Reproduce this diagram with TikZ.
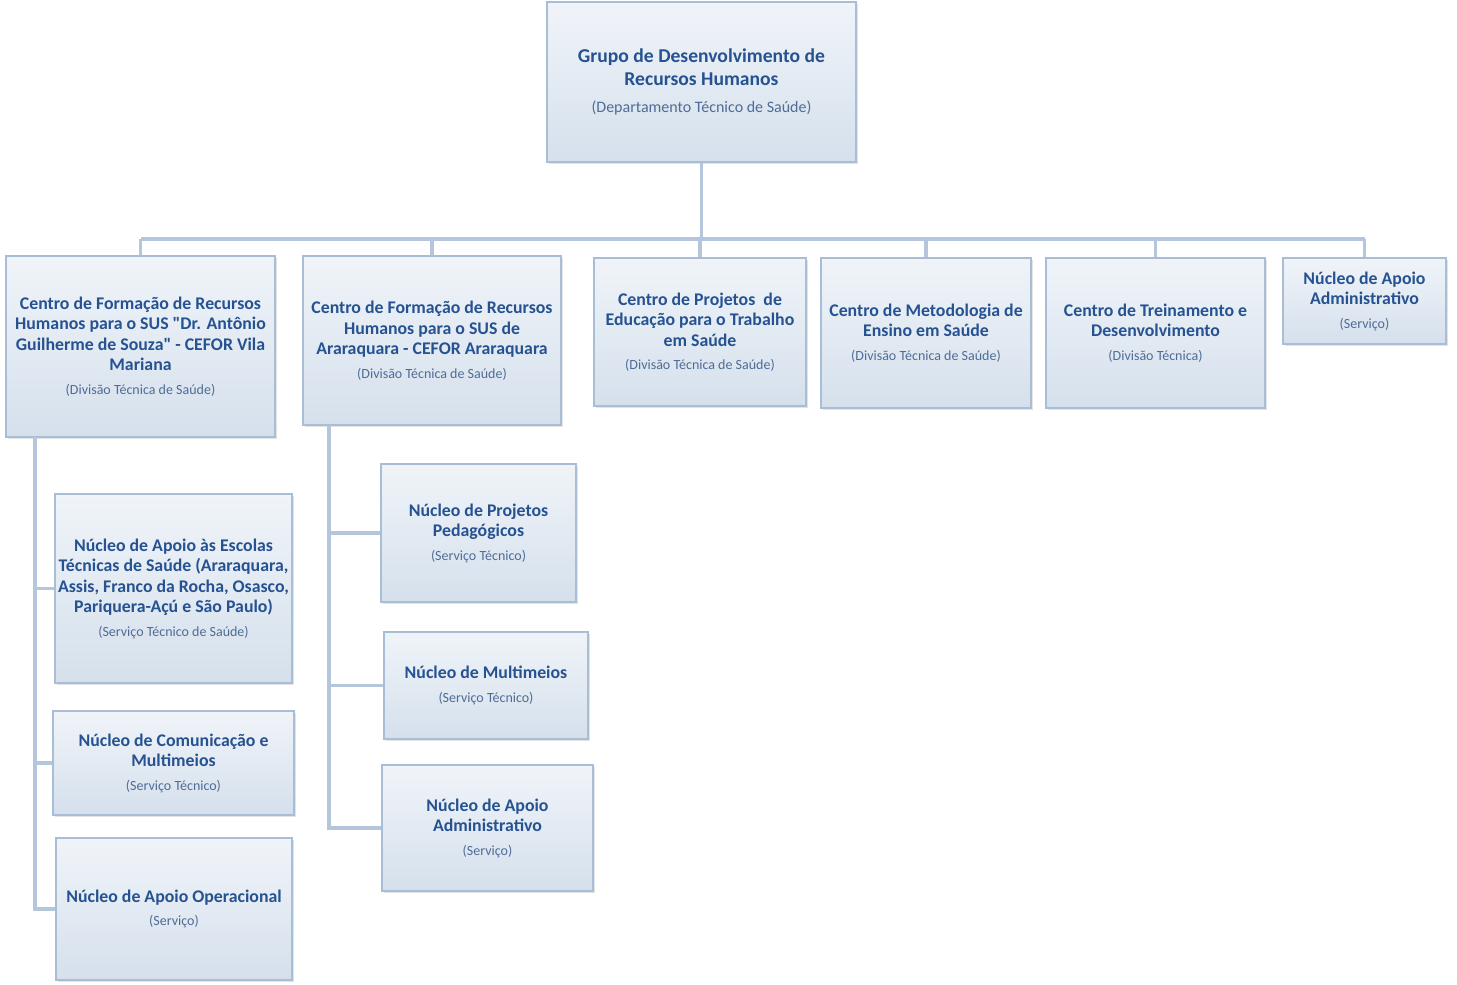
\documentclass[tikz,border=0pt]{standalone}
\usepackage{fontspec}
\setmainfont{Carlito}[Ligatures=TeXOff]
\usetikzlibrary{shadows}
\definecolor{ttl}{RGB}{38,82,145}
\definecolor{subt}{RGB}{78,108,150}
\definecolor{boxtop}{RGB}{240,244,249}
\definecolor{boxbot}{RGB}{213,224,236}
\definecolor{boxline}{RGB}{168,190,215}
\definecolor{conn}{RGB}{180,198,220}
\newcommand{\sbt}[1]{{\fontsize{14}{16}\selectfont\mdseries\color{subt}#1}}
\tikzset{
  orgbox/.style={draw=boxline, line width=1.2pt, top color=boxtop, bottom color=boxbot,
    align=center, inner sep=2pt, text=ttl,
    font=\fontsize{17.8}{20.5}\selectfont\bfseries,
    drop shadow={shadow xshift=1.5pt, shadow yshift=-1.5pt, opacity=0.22}},
  link/.style={draw=conn, line width=3.5pt},
}
\newcommand{\orgnode}[8]{%
  \node[orgbox, minimum width={#4-#2}, minimum height={#5-#3}] (#1) at ({(#2+#4)/2},{(#3+#5)/2}) {#6\\[#8]\sbt{#7}};}
\begin{document}
\begin{tikzpicture}[x=1pt,y=-1pt]
\useasboundingbox (0,0) rectangle (1457,985);
\coordinate (busL) at (141,239);
\coordinate (busR) at (1365,239);
\coordinate (colA) at (35,437);
\coordinate (colB) at (329,425);

% top box
\node[orgbox, minimum width=309, minimum height=160,
  font=\fontsize{19.6}{23}\selectfont\bfseries] (top) at (701.5,82)
  {Grupo de Desenvolvimento de\\Recursos Humanos\\[4pt]{\fontsize{16}{18}\selectfont\mdseries\color{subt}(Departamento Técnico de Saúde)}};

\draw[link] (busL) -- (busR);
\draw[link] (top.south) -- (top.south |- busL);

\orgnode{b1}{6}{256}{275}{437}{Centro de Formação de Recursos\\Humanos para o SUS "Dr. Antônio\\Guilherme de Souza" - CEFOR Vila\\Mariana}{(Divisão Técnica de Saúde)}{3pt}
\orgnode{b2}{303}{256}{561}{425}{Centro de Formação de Recursos\\Humanos para o SUS de\\Araraquara - CEFOR Araraquara}{(Divisão Técnica de Saúde)}{3pt}
\orgnode{b3}{594}{258}{806}{406}{Centro de Projetos\ \ de\\Educação para o Trabalho\\em Saúde}{(Divisão Técnica de Saúde)}{3pt}
\orgnode{b4}{821}{258}{1031}{408}{Centro de Metodologia de\\Ensino em Saúde}{(Divisão Técnica de Saúde)}{3pt}
\orgnode{b5}{1046}{258}{1265}{408}{Centro de Treinamento e\\Desenvolvimento}{(Divisão Técnica)}{3pt}
\orgnode{b6}{1283}{258}{1446}{344}{Núcleo de Apoio\\Administrativo}{(Serviço)}{3pt}

\orgnode{c1}{55}{494}{292}{683}{Núcleo de Apoio às Escolas\\Técnicas de Saúde (Araraquara,\\Assis, Franco da Rocha, Osasco,\\Pariquera-Açú e São Paulo)}{(Serviço Técnico de Saúde)}{3pt}
\orgnode{c2}{53}{711}{294}{815}{Núcleo de Comunicação e\\Multimeios}{(Serviço Técnico)}{3pt}
\orgnode{c3}{56}{838}{292}{980}{Núcleo de Apoio Operacional}{(Serviço)}{3pt}

\orgnode{d1}{381}{464}{576}{602}{Núcleo de Projetos\\Pedagógicos}{(Serviço Técnico)}{3pt}
\orgnode{d2}{384}{632}{588}{739}{Núcleo de Multimeios}{(Serviço Técnico)}{3pt}
\orgnode{d3}{382}{765}{593}{891}{Núcleo de Apoio\\Administrativo}{(Serviço)}{3pt}

\foreach \b in {b1,b2,b3,b4,b5,b6}
  \draw[link] (\b.north) -- (\b.north |- busL);

\draw[link] (colA) |- (c3.west);
\draw[link] (colA |- c1.west) -- (c1.west);
\draw[link] (colA |- c2.west) -- (c2.west);

\draw[link] (colB) |- (d3.west);
\draw[link] (colB |- d1.west) -- (d1.west);
\draw[link] (colB |- d2.west) -- (d2.west);
\end{tikzpicture}
\end{document}
